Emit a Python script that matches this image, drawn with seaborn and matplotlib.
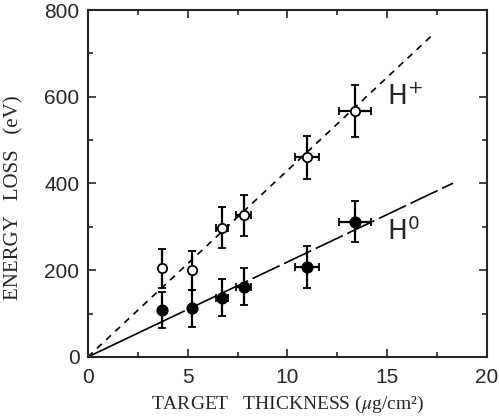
import numpy as np
import pandas as pd
import matplotlib
matplotlib.use("Agg")
import matplotlib.pyplot as plt
import seaborn as sns

# Data
thickness = [3.7, 5.2, 6.7, 7.8, 11.0, 13.4]
thickness_err = [0.0, 0.0, 0.3, 0.4, 0.6, 0.8]
hplus_loss = [205, 200, 298, 327, 460, 567]
hplus_err = [45, 45, 47, 47, 50, 60]
h0_loss = [108, 112, 137, 162, 207, 312]
h0_err = [42, 42, 42, 42, 48, 48]

# straight-line fits through the origin
hplus_slope = 43.0
hplus_xmax = 17.3
h0_slope = 21.9
h0_xmax = 18.3
h0_solid_until = 3.5

sns.set_style("ticks")
plt.rcParams['font.family'] = ['Liberation Sans', 'DejaVu Sans']

fig = plt.figure(figsize=(4.99, 4.17), dpi=100)
ax = fig.add_axes([0.176, 0.144, 0.800, 0.832])

df = pd.DataFrame({'x': thickness, 'hplus': hplus_loss, 'h0': h0_loss})

# fit lines
xs = np.array([0, hplus_xmax])
ax.plot(xs, hplus_slope * xs, color='black', lw=1.2, ls=(0, (4, 3.5)), zorder=1)
xs = np.array([0, h0_solid_until])
ax.plot(xs, h0_slope * xs, color='black', lw=1.2, zorder=1)
xs = np.array([h0_solid_until, h0_xmax])
ax.plot(xs, h0_slope * xs, color='black', lw=1.2, ls=(0, (18, 3)), zorder=1)

# error bars
ax.errorbar(thickness, hplus_loss, yerr=hplus_err, xerr=thickness_err, fmt='none',
            ecolor='black', elinewidth=1.6, capsize=3, capthick=1.3, zorder=2)
ax.errorbar(thickness, h0_loss, yerr=h0_err, xerr=thickness_err, fmt='none',
            ecolor='black', elinewidth=1.6, capsize=3, capthick=1.3, zorder=2)

sns.scatterplot(data=df, x='x', y='hplus', ax=ax, marker='o', s=45,
                facecolor='white', edgecolor='black', linewidth=1.3, zorder=3)
sns.scatterplot(data=df, x='x', y='h0', ax=ax, marker='o', s=60,
                color='black', edgecolor='black', linewidth=1, zorder=3)

ax.text(15.0, 598, 'H$^{+}$', fontsize=19, ha='left', va='center',
        family='DejaVu Sans', math_fontfamily='dejavusans')
ax.text(15.0, 288, 'H$^{0}$', fontsize=19, ha='left', va='center',
        family='DejaVu Sans', math_fontfamily='dejavusans')

ax.set_xlim(0, 20)
ax.set_ylim(0, 800)
ax.set_xticks([0, 5, 10, 15, 20])
ax.set_yticks([0, 200, 400, 600, 800])
ax.set_xticks(np.arange(0, 20.1, 2.5), minor=True)
ax.set_yticks(np.arange(0, 801, 100), minor=True)
ax.tick_params(which='both', direction='in', top=True, right=True, width=1.2)
ax.tick_params(which='major', length=6, labelsize=15, pad=6)
ax.tick_params(which='minor', length=3.5)
ax.tick_params(axis='x', labelsize=15, pad=8)
for s in ax.spines.values():
    s.set_linewidth(1.5)

ax.set_xlabel('TARGET   THICKNESS ($\\mu$g/cm²)', family='Liberation Serif', fontsize=14,
              math_fontfamily='stix')
ax.set_ylabel('ENERGY   LOSS   (eV)', family='Liberation Serif', fontsize=15)
ax.xaxis.set_label_coords(0.5, -0.105)
ax.yaxis.set_label_coords(-0.16, 0.46)

fig.savefig('out.png', dpi=100)
